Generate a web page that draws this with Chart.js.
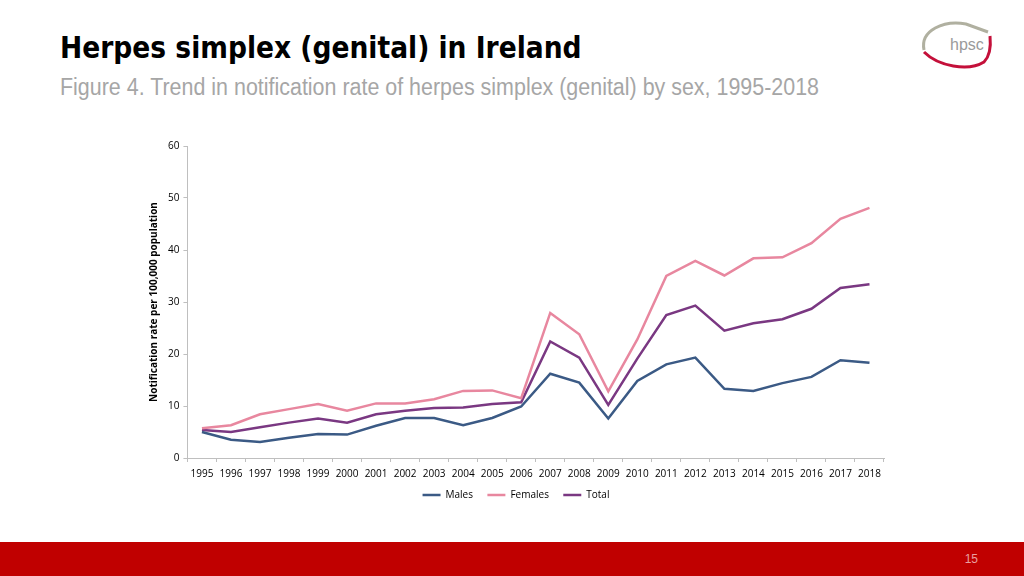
<!DOCTYPE html>
<html>
<head>
<meta charset="utf-8">
<script src="https://cdn.jsdelivr.net/npm/chart.js@4"></script>
<style>
  html, body { margin: 0; padding: 0; background: #fff; }
  body { width: 1024px; height: 576px; position: relative; overflow: hidden; font-family: "DejaVu Sans", sans-serif; }
  #title { position: absolute; left: 60px; top: 31px; font-family: "DejaVu Sans Condensed", "DejaVu Sans", sans-serif; font-weight: bold; font-size: 29.5px; color: #000; }
  #subtitle { position: absolute; left: 60px; top: 74px; font-family: "Liberation Sans", sans-serif; font-size: 23px; color: #a6a6a6; transform: scaleX(0.932); transform-origin: left top; white-space: nowrap; }
  #logo { position: absolute; left: 916px; top: 14px; }
  #wrap { position: absolute; left: 140px; top: 135px; width: 760px; height: 385px; }
  #footer { position: absolute; left: 0; top: 542px; width: 1024px; height: 34px; background: #c00000; }
  #page { position: absolute; right: 46px; top: 10px; font-family: "Liberation Sans", sans-serif; font-size: 12px; color: #e8a0a0; }
</style>
</head>
<body>
<div id="title">Herpes simplex (genital) in Ireland</div>
<div id="subtitle">Figure 4. Trend in notification rate of herpes simplex (genital) by sex, 1995-2018</div>
<svg id="logo" width="84" height="60" viewBox="0 0 84 60">
  <path d="M8 36 C4 16 28 6 50 10 L72 18" fill="none" stroke="#b0b0a0" stroke-width="3"/>
  <path d="M8 38 C22 52 52 58 68 48 C74 42 75 32 74 22" fill="none" stroke="#c4103a" stroke-width="3"/>
  <text x="34" y="36" font-family="Liberation Sans, sans-serif" font-size="16" fill="#9a9a9a">hpsc</text>
</svg>
<div id="wrap"><canvas id="chart"></canvas></div>
<div id="footer"><div id="page">15</div></div>
<script>
// Chart data
const years = ["1995","1996","1997","1998","1999","2000","2001","2002","2003","2004","2005","2006",
  "2007","2008","2009","2010","2011","2012","2013","2014","2015","2016","2017","2018"];
const males = [5.0, 3.5, 3.1, 3.9, 4.6, 4.5, 6.2, 7.7, 7.7, 6.3, 7.7, 9.9,
  16.2, 14.5, 7.6, 14.8, 18.0, 19.3, 13.3, 12.9, 14.4, 15.6, 18.8, 18.3];
const females = [5.7, 6.3, 8.4, 9.4, 10.4, 9.1, 10.5, 10.5, 11.3, 12.9, 13.0, 11.5,
  27.9, 23.8, 12.8, 22.8, 35.0, 37.9, 35.1, 38.4, 38.6, 41.3, 46.0, 48.1];
const total = [5.4, 5.0, 5.9, 6.8, 7.6, 6.8, 8.4, 9.1, 9.6, 9.7, 10.4, 10.7,
  22.4, 19.3, 10.2, 19.1, 27.5, 29.3, 24.5, 25.9, 26.7, 28.7, 32.7, 33.4];
const yTicks = [0, 10, 20, 30, 40, 50, 60];

const tickFont = { family: "Open Sans", size: 10 };

function series(label, data, color) {
  return {
    label: label,
    data: data,
    borderColor: color,
    backgroundColor: color,
    borderWidth: 2.5,
    pointRadius: 0,
    tension: 0,
    fill: false
  };
}

// legend padding is kept small vertically, so widen the gap between items with spaces
function legendLabels(chart) {
  const items = Chart.defaults.plugins.legend.labels.generateLabels(chart);
  return items.map((item, i) => {
    if (i < items.length - 1) item.text = item.text + "    ";
    return item;
  });
}

document.addEventListener("DOMContentLoaded", () => {
  const ctx = document.getElementById("chart").getContext("2d");
  new Chart(ctx, {
    type: "line",
    data: {
      labels: years,
      datasets: [
        series("Males", males, "#3b5a85"),
        series("Females", females, "#e8879f"),
        series("Total", total, "#7a3882")
      ]
    },
    options: {
      responsive: true,
      maintainAspectRatio: false,
      animation: false,
      layout: { padding: { top: 11, right: 16, bottom: 10, left: 8 } },
      plugins: {
        legend: {
          position: "bottom",
          labels: {
            usePointStyle: true,
            pointStyle: "line",
            pointStyleWidth: 18,
            font: tickFont,
            color: "#000",
            padding: 4,
            generateLabels: legendLabels
          }
        },
        tooltip: { enabled: false }
      },
      scales: {
        x: {
          offset: true,
          grid: { display: true, offset: true, drawOnChartArea: false, drawTicks: true, tickLength: 4, color: "#bfbfbf" },
          border: { color: "#bfbfbf" },
          ticks: { font: tickFont, color: "#000", maxRotation: 0, autoSkip: false, padding: 6 }
        },
        y: {
          min: 0,
          max: 60,
          afterBuildTicks: axis => { axis.ticks = yTicks.map(v => ({ value: v })); },
          grid: { display: true, drawOnChartArea: false, drawTicks: true, tickLength: 4, color: "#bfbfbf" },
          border: { color: "#bfbfbf" },
          ticks: { font: tickFont, color: "#000", padding: 4 },
          title: {
            display: true,
            text: "Notification rate per 100,000 population",
            font: { family: "Open Sans", size: 10, weight: "bold" },
            color: "#000",
            padding: { top: 0, bottom: 4 }
          }
        }
      }
    }
  });
});
</script>
</body>
</html>
